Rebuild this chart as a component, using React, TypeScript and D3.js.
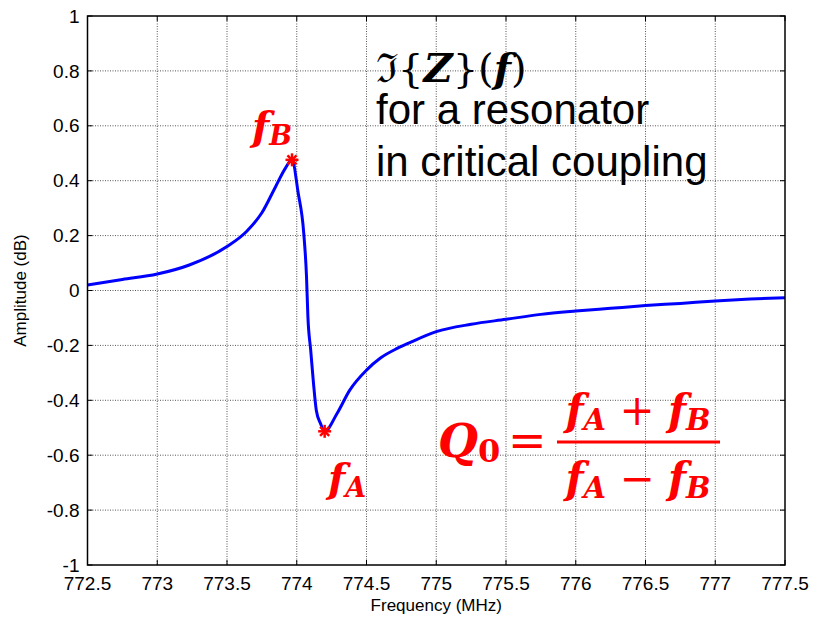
import React from 'react';
import * as d3 from 'd3';

const freq = [772.5, 772.75, 773, 773.23, 773.5, 773.64, 773.75, 773.85, 773.92, 773.966,
  774.01, 774.05, 774.07, 774.08, 774.1, 774.12, 774.14, 774.17, 774.2, 774.29, 774.38,
  774.5, 774.6, 774.72, 774.81, 775, 775.25, 775.5, 775.75, 776, 776.25, 776.5, 776.75,
  777, 777.25, 777.5];
const amp = [0.02, 0.04, 0.06, 0.093, 0.16, 0.215, 0.283, 0.38, 0.447, 0.476,
  0.356, 0.21, 0.05, -0.096, -0.217, -0.338, -0.436, -0.484, -0.513, -0.447, -0.363,
  -0.29, -0.246, -0.211, -0.19, -0.15, -0.123, -0.105, -0.087, -0.075, -0.065, -0.055, -0.047,
  -0.038, -0.031, -0.026];

const markerFreq = [773.966, 774.2];
const markerAmp = [0.476, -0.513];

const xTicks = [772.5, 773, 773.5, 774, 774.5, 775, 775.5, 776, 776.5, 777, 777.5];
const yTicks = [-1, -0.8, -0.6, -0.4, -0.2, 0, 0.2, 0.4, 0.6, 0.8, 1];

const W = 814, H = 622;
const margin = {left: 87.5, right: 29, top: 16, bottom: 57};

const Asterisk = ({x, y}: {x: number, y: number}) => {
  const r = 6.5;
  const d = r * 0.7;
  return (
    <g stroke="#ff0000" strokeWidth={2.5}>
      <line x1={x - r} y1={y} x2={x + r} y2={y}/>
      <line x1={x} y1={y - r} x2={x} y2={y + r}/>
      <line x1={x - d} y1={y - d} x2={x + d} y2={y + d}/>
      <line x1={x - d} y1={y + d} x2={x + d} y2={y - d}/>
    </g>
  );
};

const App = () => {
  const x = d3.scaleLinear().domain([772.5, 777.5]).range([margin.left, W - margin.right]);
  const y = d3.scaleLinear().domain([-1, 1]).range([H - margin.bottom, margin.top]);
  const [x0, x1] = x.range();
  const [y0, y1] = y.range();

  const pts = freq.map((f, i) => [f, amp[i]] as [number, number]);
  const line = d3.line<[number, number]>()
    .x(d => x(d[0]))
    .y(d => y(d[1]))
    .curve(d3.curveMonotoneX);

  const tick = 5;
  const axisFont = 'Liberation Sans, Arial, sans-serif';
  const mathFont = 'DejaVu Serif, Liberation Serif, serif';
  const red = '#ff0000';

  return (
    <svg width={W} height={H} style={{position: 'absolute', left: 0, top: 0, background: '#fff'}}>
      <rect x={0} y={0} width={W} height={H} fill="#fff"/>
      {/* grid */}
      <g stroke="#555" strokeWidth={1} strokeDasharray="1,1.5">
        {xTicks.slice(1, -1).map(t => (
          <line key={'gx' + t} x1={x(t)} x2={x(t)} y1={y1} y2={y0}/>
        ))}
        {yTicks.slice(1, -1).map(t => (
          <line key={'gy' + t} x1={x0} x2={x1} y1={y(t)} y2={y(t)}/>
        ))}
      </g>

      {/* curve */}
      <path d={line(pts) || ''} fill="none" stroke="#0000ff" strokeWidth={3} strokeLinejoin="round"/>
      {markerFreq.map((f, i) => (
        <Asterisk key={'m' + i} x={x(f)} y={y(markerAmp[i])}/>
      ))}

      {/* box + ticks */}
      <rect x={x0} y={y1} width={x1 - x0} height={y0 - y1} fill="none" stroke="#000" strokeWidth={1.5}/>
      <g stroke="#000" strokeWidth={1}>
        {xTicks.map(t => (
          <g key={'tx' + t}>
            <line x1={x(t)} x2={x(t)} y1={y0} y2={y0 - tick}/>
            <line x1={x(t)} x2={x(t)} y1={y1} y2={y1 + tick}/>
          </g>
        ))}
        {yTicks.map(t => (
          <g key={'ty' + t}>
            <line x1={x0} x2={x0 + tick} y1={y(t)} y2={y(t)}/>
            <line x1={x1} x2={x1 - tick} y1={y(t)} y2={y(t)}/>
          </g>
        ))}
      </g>
      <g fontFamily={axisFont} fontSize={19} fill="#000">
        {xTicks.map(t => (
          <text key={'lx' + t} x={x(t)} y={y0 + 25} textAnchor="middle">{String(t)}</text>
        ))}
        {yTicks.map(t => (
          <text key={'ly' + t} x={x0 - 8} y={y(t)} dy="0.35em" textAnchor="end">{String(t)}</text>
        ))}
      </g>
      <text x={(x0 + x1) / 2} y={611} textAnchor="middle" fontFamily={axisFont} fontSize={17}>Frequency (MHz)</text>
      <text transform={`translate(26,${(y0 + y1) / 2}) rotate(-90)`} textAnchor="middle"
            fontFamily={axisFont} fontSize={17}>Amplitude (dB)</text>

      {/* annotation */}
      <text x={376} y={82} fontFamily={mathFont} fontSize={40} fill="#000">
        <tspan>ℑ{'{'}</tspan>
        <tspan fontWeight="bold" fontStyle="italic">Z</tspan>
        <tspan>{'}('}</tspan>
        <tspan fontWeight="bold" fontStyle="italic">f</tspan>
        <tspan>)</tspan>
      </text>
      <text x={376} y={124} fontFamily={axisFont} fontSize={42} fill="#000">for a resonator</text>
      <text x={376} y={176} fontFamily={axisFont} fontSize={42} fill="#000">in critical coupling</text>

      <g fontFamily={mathFont} fontWeight="bold" fontStyle="italic" fill={red}>
        <text x={252} y={140} fontSize={40}>f<tspan fontSize={27} dy={5}>B</tspan></text>
        <text x={328} y={492} fontSize={40}>f<tspan fontSize={27} dy={5}>A</tspan></text>

        <text x={438} y={457} fontSize={46}>Q<tspan fontSize={32} fontStyle="normal" dy={5}>0</tspan></text>
        <text x={508} y={456} fontSize={46} fontStyle="normal" fontWeight="normal">=</text>
        <text x={638} y={425} fontSize={42} textAnchor="middle">
          f<tspan fontSize={29} dy={5}>A</tspan><tspan fontStyle="normal" fontWeight="normal" dy={-5}> + </tspan>f<tspan fontSize={29} dy={5}>B</tspan>
        </text>
        <text x={638} y={493} fontSize={42} textAnchor="middle">
          f<tspan fontSize={29} dy={5}>A</tspan><tspan fontStyle="normal" fontWeight="normal" dy={-5}> − </tspan>f<tspan fontSize={29} dy={5}>B</tspan>
        </text>
      </g>
      <line x1={557} x2={720} y1={442} y2={442} stroke={red} strokeWidth={3}/>
    </svg>
  );
};

export default App;
